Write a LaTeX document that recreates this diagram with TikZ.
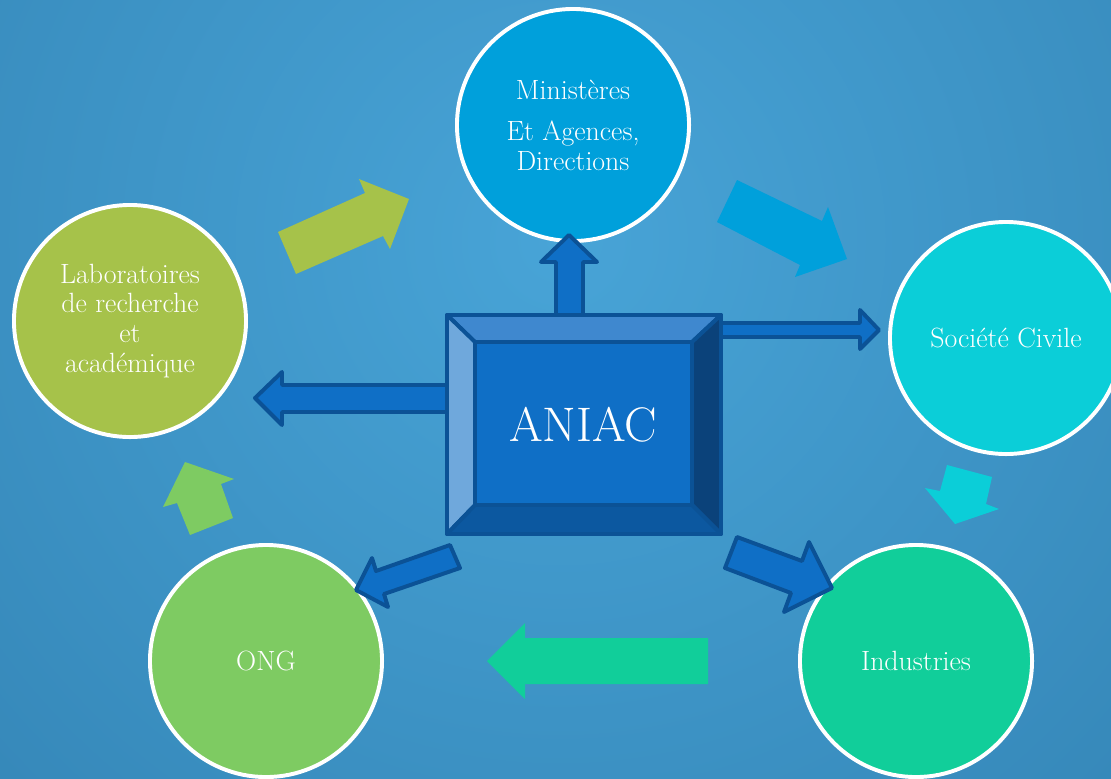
\documentclass[tikz,border=0pt]{standalone}
\usepackage{fontspec}
\definecolor{bgin}{RGB}{72,164,215}
\definecolor{bgout}{RGB}{42,118,166}
\definecolor{cMin}{RGB}{0,160,219}
\definecolor{cSoc}{RGB}{11,206,216}
\definecolor{cInd}{RGB}{17,206,154}
\definecolor{cOng}{RGB}{126,203,98}
\definecolor{cLab}{RGB}{166,194,74}
\definecolor{dkFill}{RGB}{15,111,198}
\definecolor{dkLine}{RGB}{11,82,150}
\definecolor{bvTop}{RGB}{63,136,207}
\definecolor{bvLeft}{RGB}{111,168,220}
\definecolor{bvRight}{RGB}{11,66,122}
\definecolor{bvBot}{RGB}{12,88,160}
\begin{document}
\begin{tikzpicture}[x=0.025cm,y=-0.025cm,
  bubble/.style={circle, draw=white, line width=2.8pt, minimum size=5.8cm, inner sep=0pt,
    align=center, text=white, font=\fontsize{19.8}{21.3}\selectfont},
  darrow/.style={fill=dkFill, draw=dkLine, line width=2.8pt, line join=round},
  face/.style={draw=dkLine, line width=2.8pt, line join=round}]
\useasboundingbox (0,0) rectangle (1111,778);
\begin{scope}
  \clip (0,0) rectangle (1111,778);
  \fill[bgout] (0,0) rectangle (1111,778);
  \shade[inner color=bgin, outer color=bgout] (560,240) circle (1300);
\end{scope}
% light arrows between circles
\fill[cLab] (278,232) -- (365,193) -- (359,179) -- (409,199) -- (390,249) -- (383,236) -- (296,274) -- cycle;
\fill[cMin] (737,180) -- (822,221) -- (828,207) -- (847,259) -- (795,277) -- (800,265) -- (717,222) -- cycle;
\fill[cSoc] (947,465) -- (992,477) -- (986,504) -- (999,509) -- (955,524) -- (925,488) -- (940,491) -- cycle;
\fill[cInd] (708,638) -- (525,638) -- (525,623) -- (487,661) -- (525,699) -- (525,684) -- (708,684) -- cycle;
\fill[cOng] (185,462) -- (234,479) -- (221,484) -- (233,518) -- (190,535) -- (177,503) -- (163,507) -- cycle;
% circles
\node[bubble, fill=cMin] (min) at (573,125) {Ministères\\[8pt]Et Agences,\\Directions};
\node[bubble, fill=cSoc] (soc) at (1006,338) {Société Civile};
\node[bubble, fill=cInd] (ind) at (916,661) {Industries};
\node[bubble, fill=cOng] (ong) at (266,661) {ONG};
\node[bubble, fill=cLab] (lab) at (130,321) {Laboratoires\\de recherche\\et\\académique};
% dark arrows from ANIAC
\draw[darrow] (556,318) -- (556,262) -- (541,262) -- (569,235) -- (597,262) -- (583,262) -- (583,318) -- cycle;
\draw[darrow] (718,323) -- (860,323) -- (860,310) -- (879,330) -- (860,349) -- (860,337) -- (718,337) -- cycle;
\draw[darrow] (450,385) -- (282,385) -- (282,372) -- (255,398) -- (282,425) -- (282,412) -- (450,412) -- cycle;
\draw[darrow] (450,545) -- (376,571) -- (372,558) -- (356,590) -- (388,607) -- (384,594) -- (460,568) -- cycle;
\draw[darrow] (737,537) -- (802,561) -- (809,542) -- (832,588) -- (784,612) -- (791,593) -- (725,568) -- cycle;
% ANIAC box
\filldraw[face, fill=bvTop] (447,315) -- (721,315) -- (692,342) -- (475,342) -- cycle;
\filldraw[face, fill=bvLeft] (447,315) -- (475,342) -- (475,505) -- (447,534) -- cycle;
\filldraw[face, fill=bvRight] (721,315) -- (721,534) -- (692,505) -- (692,342) -- cycle;
\filldraw[face, fill=bvBot] (447,534) -- (475,505) -- (692,505) -- (721,534) -- cycle;
\filldraw[face, fill=dkFill] (475,342) rectangle (692,505);
\draw[face] (447,315) rectangle (721,534);
\node[text=white, font=\fontsize{34.5}{40}\selectfont] (aniac) at (583,425) {ANIAC};
\end{tikzpicture}
\end{document}
